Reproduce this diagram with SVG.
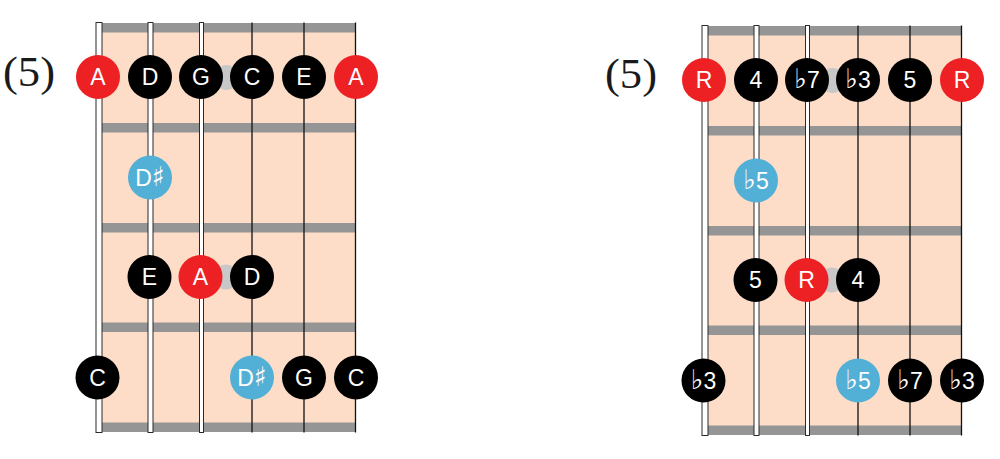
<svg xmlns="http://www.w3.org/2000/svg" width="1000" height="459" viewBox="0 0 1000 459">
<style>
.board{fill:#FDDDC8}
.fret{fill:#959595}
.mark{fill:#C8C8C8}
.ws{fill:#FFFFFF;stroke:#2A2A2A;stroke-width:1}
.ts{stroke:#111;stroke-width:1.3}
.r{fill:#ED2124}
.k{fill:#000000}
.b{fill:#52AFD6}
.n text{font-family:"Liberation Sans","DejaVu Sans",Arial,sans-serif;font-size:23px;fill:#FFFFFF;text-anchor:middle}
.n tspan.a{font-family:"DejaVu Sans",sans-serif;font-size:27px}
.pos{font-family:"Liberation Serif","DejaVu Serif",serif;font-size:42px;fill:#1a1a1a}
</style>
<defs>
<g id="fb">
<rect class="board" x="102" y="23" width="254" height="409"/>
<rect class="fret" x="102" y="23" width="254" height="9.5"/>
<rect class="fret" x="102" y="123" width="254" height="9.5"/>
<rect class="fret" x="102" y="223" width="254" height="9.5"/>
<rect class="fret" x="102" y="322.5" width="254" height="9.5"/>
<rect class="fret" x="102" y="422.5" width="254" height="9.5"/>
<circle class="mark" cx="226.5" cy="77.5" r="12.5"/>
<circle class="mark" cx="226" cy="277" r="12.5"/>
<rect class="ws" x="96" y="22.5" width="6" height="410"/>
<rect class="ws" x="148" y="22.5" width="5" height="410"/>
<rect class="ws" x="199.5" y="22.5" width="4" height="410"/>
<line class="ts" x1="252" y1="22.5" x2="252" y2="432.5"/>
<line class="ts" x1="304" y1="22.5" x2="304" y2="432.5"/>
<line class="ts" x1="355.5" y1="22.5" x2="355.5" y2="432.5"/>
</g>
</defs>
<g id="board-left"><use href="#fb"/></g>
<g id="board-right" transform="translate(606,3)"><use href="#fb"/></g>
<g id="connectors"></g>
<text class="pos" x="3" y="86" textLength="52" lengthAdjust="spacingAndGlyphs">(5)</text>
<text class="pos" x="605" y="88" textLength="52" lengthAdjust="spacingAndGlyphs">(5)</text>
<g id="left-notes" class="n">
<g id="L1"><circle class="r" cx="98" cy="77" r="22"/><text x="98" y="85">A</text></g>
<g id="L2"><circle class="k" cx="150" cy="77" r="22"/><text x="150" y="85">D</text></g>
<g id="L3"><circle class="k" cx="201" cy="77" r="22"/><text x="201" y="85">G</text></g>
<g id="L4"><circle class="k" cx="252" cy="77" r="22"/><text x="252" y="85">C</text></g>
<g id="L5"><circle class="k" cx="304" cy="77" r="22"/><text x="304" y="85">E</text></g>
<g id="L6"><circle class="r" cx="356" cy="77" r="22"/><text x="356" y="85">A</text></g>
<g id="L7"><circle class="b" cx="150" cy="177.5" r="22"/><text x="150" y="185.5">D<tspan class="a">♯</tspan></text></g>
<g id="L8"><circle class="k" cx="149.5" cy="277" r="22"/><text x="149.5" y="285">E</text></g>
<g id="L9"><circle class="r" cx="200.5" cy="277" r="22"/><text x="200.5" y="285">A</text></g>
<g id="L10"><circle class="k" cx="252" cy="277" r="22"/><text x="252" y="285">D</text></g>
<g id="L11"><circle class="k" cx="97.5" cy="377.5" r="22"/><text x="97.5" y="385.5">C</text></g>
<g id="L12"><circle class="b" cx="252" cy="377.5" r="22"/><text x="252" y="385.5">D<tspan class="a">♯</tspan></text></g>
<g id="L13"><circle class="k" cx="304" cy="377.5" r="22"/><text x="304" y="385.5">G</text></g>
<g id="L14"><circle class="k" cx="356" cy="377.5" r="22"/><text x="356" y="385.5">C</text></g>
</g>
<g id="right-notes" class="n">
<g id="R1"><circle class="r" cx="704" cy="80" r="22"/><text x="704" y="88">R</text></g>
<g id="R2"><circle class="k" cx="756" cy="80" r="22"/><text x="756" y="88">4</text></g>
<g id="R3"><circle class="k" cx="807" cy="80" r="22"/><text x="807" y="88"><tspan class="a">♭</tspan>7</text></g>
<g id="R4"><circle class="k" cx="858" cy="80" r="22"/><text x="858" y="88"><tspan class="a">♭</tspan>3</text></g>
<g id="R5"><circle class="k" cx="910" cy="80" r="22"/><text x="910" y="88">5</text></g>
<g id="R6"><circle class="r" cx="962" cy="80" r="22"/><text x="962" y="88">R</text></g>
<g id="R7"><circle class="b" cx="756" cy="180.5" r="22"/><text x="756" y="188.5"><tspan class="a">♭</tspan>5</text></g>
<g id="R8"><circle class="k" cx="755.5" cy="280" r="22"/><text x="755.5" y="288">5</text></g>
<g id="R9"><circle class="r" cx="806.5" cy="280" r="22"/><text x="806.5" y="288">R</text></g>
<g id="R10"><circle class="k" cx="858" cy="280" r="22"/><text x="858" y="288">4</text></g>
<g id="R11"><circle class="k" cx="703.5" cy="380.5" r="22"/><text x="703.5" y="388.5"><tspan class="a">♭</tspan>3</text></g>
<g id="R12"><circle class="b" cx="858" cy="380.5" r="22"/><text x="858" y="388.5"><tspan class="a">♭</tspan>5</text></g>
<g id="R13"><circle class="k" cx="910" cy="380.5" r="22"/><text x="910" y="388.5"><tspan class="a">♭</tspan>7</text></g>
<g id="R14"><circle class="k" cx="962" cy="380.5" r="22"/><text x="962" y="388.5"><tspan class="a">♭</tspan>3</text></g>
</g>
</svg>
